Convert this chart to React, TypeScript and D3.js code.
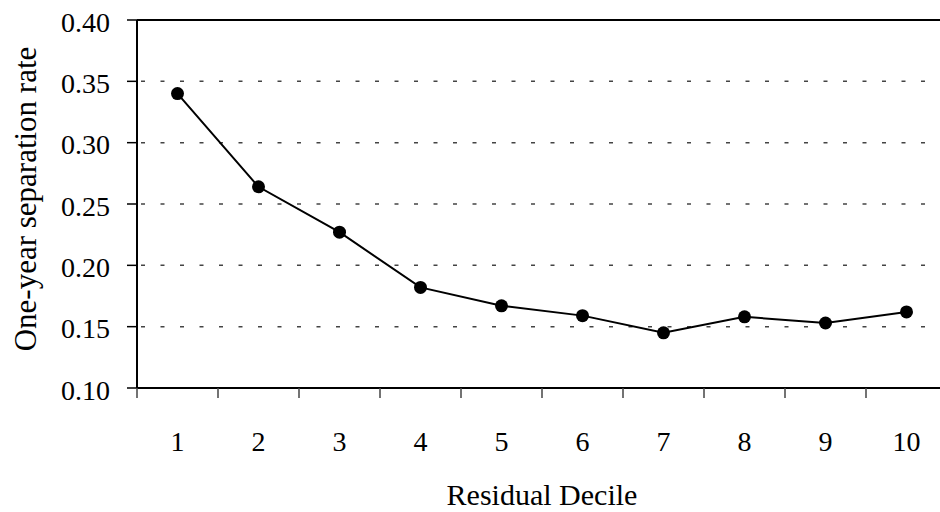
import React, { useEffect, useRef } from 'react';
import * as d3 from 'd3';

// Residual deciles and the one-year separation rate
const deciles = ['1', '2', '3', '4', '5', '6', '7', '8', '9', '10'];
const separationRate = [0.340, 0.264, 0.227, 0.182, 0.167, 0.159, 0.145, 0.158, 0.153, 0.162];
const yTicks = [0.10, 0.15, 0.20, 0.25, 0.30, 0.35, 0.40];

const App = () => {
  const width = 940;
  const height = 512;
  // plot area runs past the right edge of the picture (it is cropped)
  const margin = { top: 20, left: 137, bottom: 124 };
  const plotRight = 947;
  const svgRef = useRef<SVGSVGElement | null>(null);

  useEffect(() => {
    const svg = d3.select(svgRef.current);
    svg.selectAll('*').remove();

    const font = '"Liberation Serif", "Times New Roman", serif';
    const x = d3.scaleBand<string>().domain(deciles).range([margin.left, plotRight]).padding(0);
    const y = d3.scaleLinear().domain([0.1, 0.4]).range([height - margin.bottom, margin.top]);
    const y0 = y(0.1);

    // Dotted horizontal gridlines
    svg.append('g')
      .selectAll('line')
      .data(yTicks.filter(t => t > 0.1 && t < 0.4))
      .enter()
      .append('line')
      .attr('x1', margin.left + 4)
      .attr('x2', plotRight)
      .attr('y1', d => y(d))
      .attr('y2', d => y(d))
      .attr('stroke', '#444')
      .attr('stroke-width', 1.5)
      .attr('stroke-dasharray', '4 15.5');

    // Plot border top
    svg.append('line')
      .attr('x1', margin.left).attr('x2', plotRight)
      .attr('y1', y(0.4)).attr('y2', y(0.4))
      .attr('stroke', '#000').attr('stroke-width', 2);

    // Y axis
    const yAxis = svg.append('g').attr('transform', `translate(${margin.left},0)`);
    yAxis.append('line')
      .attr('y1', y(0.4)).attr('y2', y0)
      .attr('stroke', '#000').attr('stroke-width', 2);
    yAxis.selectAll('line.tick')
      .data(yTicks)
      .enter()
      .append('line')
      .attr('class', 'tick')
      .attr('x1', -10).attr('x2', 0)
      .attr('y1', d => y(d)).attr('y2', d => y(d))
      .attr('stroke', '#000').attr('stroke-width', 1.5);
    yAxis.selectAll('text')
      .data(yTicks)
      .enter()
      .append('text')
      .attr('x', -27)
      .attr('y', d => y(d) + 2)
      .attr('dy', '0.35em')
      .attr('text-anchor', 'end')
      .style('font-family', font)
      .style('font-size', '28px')
      .text(d => d.toFixed(2));

    // X axis
    const xAxis = svg.append('g').attr('transform', `translate(0,${y0})`);
    xAxis.append('line')
      .attr('x1', margin.left).attr('x2', plotRight)
      .attr('stroke', '#000').attr('stroke-width', 2);
    const boundaries = deciles.map(d => x(d) as number).concat([plotRight]);
    xAxis.selectAll('line.tick')
      .data(boundaries)
      .enter()
      .append('line')
      .attr('class', 'tick')
      .attr('x1', d => d).attr('x2', d => d)
      .attr('y1', 0).attr('y2', 10)
      .attr('stroke', '#444').attr('stroke-width', 1.5);
    xAxis.selectAll('text')
      .data(deciles)
      .enter()
      .append('text')
      .attr('x', d => (x(d) as number) + x.bandwidth() / 2)
      .attr('y', 63)
      .attr('text-anchor', 'middle')
      .style('font-family', font)
      .style('font-size', '28px')
      .text(d => d);

    // Axis titles
    svg.append('text')
      .attr('x', (margin.left + plotRight) / 2)
      .attr('y', 505)
      .attr('text-anchor', 'middle')
      .style('font-family', font)
      .style('font-size', '30px')
      .text('Residual Decile');
    svg.append('text')
      .attr('transform', `translate(36,${(margin.top + y0) / 2 - 5}) rotate(-90)`)
      .attr('text-anchor', 'middle')
      .style('font-family', font)
      .style('font-size', '31px')
      .text('One-year separation rate');

    // Line and markers
    const pts = deciles.map((d, i) => [(x(d) as number) + x.bandwidth() / 2, y(separationRate[i])] as [number, number]);
    svg.append('path')
      .attr('d', d3.line()(pts))
      .attr('fill', 'none')
      .attr('stroke', '#000')
      .attr('stroke-width', 2);
    svg.selectAll('circle')
      .data(pts)
      .enter()
      .append('circle')
      .attr('cx', d => d[0])
      .attr('cy', d => d[1])
      .attr('r', 6.5)
      .attr('fill', '#000');
  }, []);

  return (
    <svg
      ref={svgRef}
      width={width}
      height={height}
      style={{ position: 'absolute', left: 0, top: 0, background: '#fff' }}
    />
  );
};

export default App;
